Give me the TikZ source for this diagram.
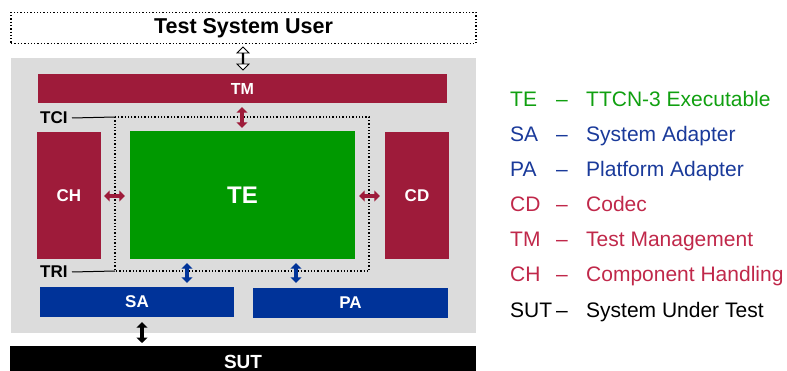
\documentclass[tikz,border=0pt]{standalone}
\usepackage{fontspec}
\setmainfont{Liberation Sans}
\usetikzlibrary{arrows.meta,shapes.arrows,calc}
\definecolor{crim}{HTML}{9E1B3A}
\definecolor{tegreen}{HTML}{009900}
\definecolor{sablue}{HTML}{003399}
\definecolor{bggray}{HTML}{DCDCDC}
\definecolor{lgreen}{HTML}{10A010}
\definecolor{lblue}{HTML}{1A3A9A}
\definecolor{lcrim}{HTML}{C0284A}
\tikzset{
  blk/.style={rectangle, inner sep=0pt, font=\bfseries, text=white},
  lab/.style={inner sep=0pt, font=\fontsize{17}{20}\selectfont\bfseries},
  dotline/.style={dotted, line width=1.3pt},
  conn/.style={line width=4pt, {Triangle[width=11pt,length=5.5pt]}-{Triangle[width=11pt,length=5.5pt]}},
  leg/.style={anchor=base west, inner sep=0pt, font=\fontsize{21}{24}\selectfont}
}
\begin{document}
\begin{tikzpicture}[x=1pt,y=-1pt]
\useasboundingbox (0,0) rectangle (787,371);
% user
\node[draw, dotline, minimum width=465pt, minimum height=31pt, inner sep=0pt, font=\fontsize{21.5}{24}\selectfont\bfseries] (user) at (243.5,28) {Test System User};
% gray background
\fill[bggray] (11,58) rectangle (476,333);
% blocks
\node[blk, fill=crim, minimum width=409pt, minimum height=29pt, font=\fontsize{16}{18}\selectfont\bfseries] (tm) at (242.5,88.5) {TM};
\node[blk, fill=crim, minimum width=64pt, minimum height=127pt, font=\fontsize{17}{20}\selectfont\bfseries] (ch) at (69,195.5) {CH};
\node[blk, fill=tegreen, minimum width=225pt, minimum height=128pt, font=\fontsize{24}{28}\selectfont\bfseries] (te) at (242.5,195) {TE};
\node[blk, fill=crim, minimum width=64pt, minimum height=127pt, font=\fontsize{17}{20}\selectfont\bfseries] (cd) at (417,195.5) {CD};
\node[blk, fill=sablue, minimum width=194pt, minimum height=30pt, font=\fontsize{17}{20}\selectfont\bfseries] (sa) at (137,302) {SA};
\node[blk, fill=sablue, minimum width=195pt, minimum height=30pt, font=\fontsize{17}{20}\selectfont\bfseries] (pa) at (350.5,303) {PA};
\fill[black] (10,346) rectangle (476,372);
\node[blk, font=\fontsize{19}{22}\selectfont\bfseries, anchor=base] (sut) at (243,368) {SUT};
\coordinate (sutnorth) at (142,346);
% dotted interface box
\draw[dotline] (115,117) rectangle (369,271);
\coordinate (tcipt) at (115,117);
\coordinate (tript) at (115,271);
\node[lab, anchor=west] (tci) at (40,118) {TCI};
\node[lab, anchor=west] (tri) at (40,272) {TRI};
\draw[line width=1pt] (tci.east -| 72,0) -- (tcipt);
\draw[line width=1pt] (tri.east -| 72,0) -- (tript);
% hollow arrow
\node[double arrow, draw=black, fill=white, line width=0.8pt, shape border rotate=90,
      minimum height=23pt, minimum width=12pt, double arrow head extend=3.5pt,
      double arrow head indent=0pt, inner sep=0pt] (ua) at (243,58.5) {};
% connectors
\draw[conn, crim, shorten <=4pt, shorten >=3pt] (tm.south -| 242,0) -- (te.north -| 242,0);
\draw[conn, crim, shorten <=3pt, shorten >=5pt] (ch.east |- 0,196) -- (te.west |- 0,196);
\draw[conn, crim, shorten <=4pt, shorten >=5pt] (te.east |- 0,196) -- (cd.west |- 0,196);
\draw[conn, sablue, shorten <=4pt, shorten >=4pt] (te.south -| 187,0) -- (sa.north -| 187,0);
\draw[conn, sablue, shorten <=4pt, shorten >=5pt] (te.south -| 296,0) -- (pa.north -| 296,0);
\draw[conn, black, shorten <=5pt, shorten >=3pt] (sa.south -| 142,0) -- (sutnorth);
% legend
\node[leg, text=lgreen] (l1a) at (510,107) {TE};
\node[leg, text=lgreen] (l1b) at (556,107) {--};
\node[leg, text=lgreen] (l1c) at (586,107) {TTCN-3 Executable};
\node[leg, text=lblue] (l2a) at (510,142) {SA};
\node[leg, text=lblue] (l2b) at (556,142) {--};
\node[leg, text=lblue] (l2c) at (586,142) {System Adapter};
\node[leg, text=lblue] (l3a) at (510,177) {PA};
\node[leg, text=lblue] (l3b) at (556,177) {--};
\node[leg, text=lblue] (l3c) at (586,177) {Platform Adapter};
\node[leg, text=lcrim] (l4a) at (510,212) {CD};
\node[leg, text=lcrim] (l4b) at (556,212) {--};
\node[leg, text=lcrim] (l4c) at (586,212) {Codec};
\node[leg, text=lcrim] (l5a) at (510,247) {TM};
\node[leg, text=lcrim] (l5b) at (556,247) {--};
\node[leg, text=lcrim] (l5c) at (586,247) {Test Management};
\node[leg, text=lcrim] (l6a) at (510,282) {CH};
\node[leg, text=lcrim] (l6b) at (556,282) {--};
\node[leg, text=lcrim] (l6c) at (586,282) {Component Handling};
\node[leg, text=black] (l7a) at (510,317) {SUT};
\node[leg, text=black] (l7b) at (556,317) {--};
\node[leg, text=black] (l7c) at (586,317) {System Under Test};
\end{tikzpicture}
\end{document}
